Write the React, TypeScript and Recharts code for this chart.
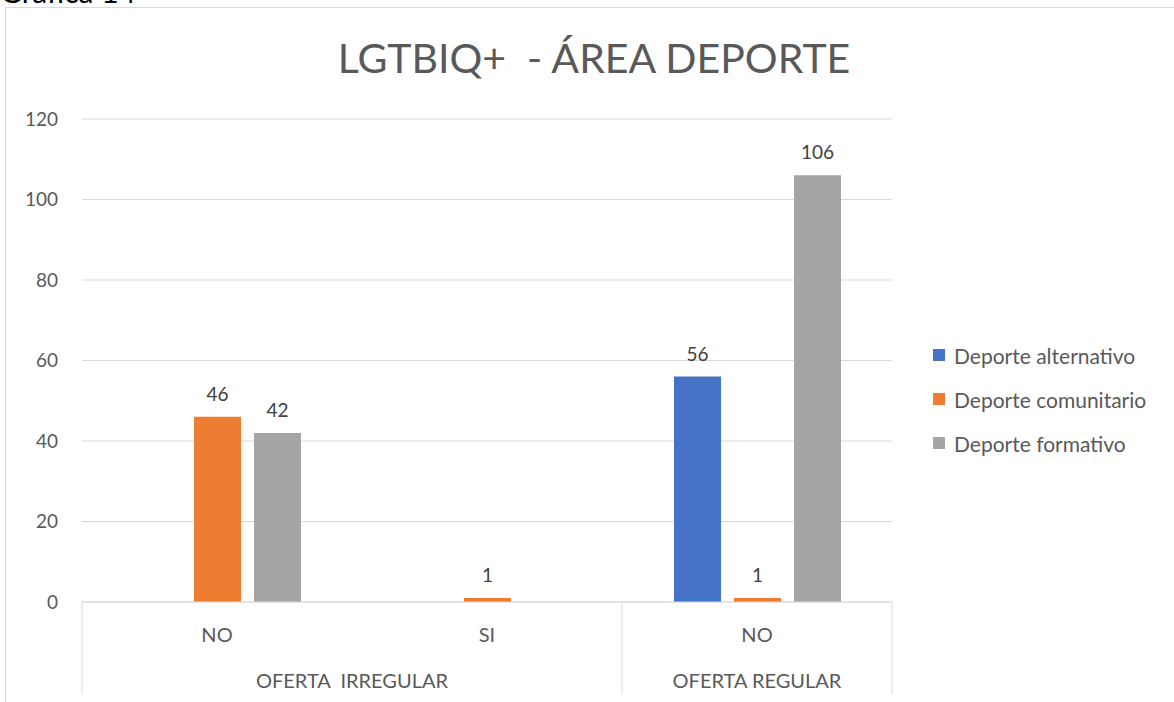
import { BarChart, Bar, XAxis, YAxis, CartesianGrid, Legend, LabelList } from 'recharts';

const categories = ['NO', 'SI', 'NO'];
const categoryGroup = [0, 0, 1];
const groups = ['OFERTA  IRREGULAR', 'OFERTA REGULAR'];
const alternativo = [null, null, 56];
const comunitario = [46, 1, 1];
const formativo = [42, null, 106];
const yTicks = [0, 20, 40, 60, 80, 100, 120];

const series = [
  { key: 'alternativo', name: 'Deporte alternativo', color: '#4472C4' },
  { key: 'comunitario', name: 'Deporte comunitario', color: '#ED7D31' },
  { key: 'formativo', name: 'Deporte formativo', color: '#A5A5A5' },
];

const data = categories.map((c, i) => ({
  cat: c,
  alternativo: alternativo[i],
  comunitario: comunitario[i],
  formativo: formativo[i],
}));

const FONT = 'Lato, "Open Sans", sans-serif';
const BAND = 270;

// two-row category axis like Excel's multi-level labels
const GroupTick = (props: any) => {
  const { x, y, payload } = props;
  const i = payload.index;
  const g = categoryGroup[i];
  const first = categoryGroup.indexOf(g);
  const last = categoryGroup.lastIndexOf(g);
  const lines: number[] = [];
  if (i === first) lines.push(x - BAND / 2);
  if (i === categories.length - 1) lines.push(x + BAND / 2);
  return (
    <g>
      <text x={x} y={y + 40} textAnchor="middle" fill="#595959" fontSize={20} fontFamily={FONT}>
        {payload.value}
      </text>
      {lines.map((lx) => (
        <line key={lx} x1={lx} x2={lx} y1={y} y2={y + 92} stroke="#d9d9d9" />
      ))}
      {i === first && (
        <text
          x={x + ((last - first) * BAND) / 2}
          y={y + 86}
          textAnchor="middle"
          fill="#595959"
          fontSize={20}
          fontFamily={FONT}
          style={{ whiteSpace: 'pre' }}
        >
          {groups[g]}
        </text>
      )}
    </g>
  );
};

const LegendBox = () => (
  <div style={{ paddingLeft: 41, fontFamily: FONT }}>
    {series.map((s) => (
      <div key={s.key} style={{ display: 'flex', alignItems: 'center', height: 44, fontSize: 21, color: '#595959' }}>
        <span style={{ width: 12, height: 12, background: s.color, marginRight: 9 }} />
        {s.name}
      </div>
    ))}
  </div>
);

const hideEmpty = (v: any) => (v == null ? '' : v);

export default function App() {
  return (
    <div style={{ position: 'absolute', left: 0, top: 0, width: 1174, height: 702, overflow: 'hidden', background: '#fff' }}>
      <div style={{ position: 'absolute', left: 5, top: 7, width: 1300, height: 800, border: '1px solid #d9d9d9' }} />
      <svg style={{ position: 'absolute', left: 0, top: 0 }} width={1174} height={100}>
        <text x={0} y={3} fontSize={30} fill="#000" fontFamily={FONT}>Gráfica 14</text>
        <text x={594} y={73} fontSize={41} fill="#595959" textAnchor="middle" fontFamily={FONT} style={{ whiteSpace: 'pre' }}>
          LGTBIQ+  - ÁREA DEPORTE
        </text>
      </svg>
      <div style={{ position: 'absolute', left: 0, top: 0 }}>
        <BarChart
          width={1174}
          height={702}
          data={data}
          margin={{ top: 119, right: 20, bottom: 0, left: 0 }}
          barSize={47}
          barGap={13}
        >
          <CartesianGrid vertical={false} stroke="#d9d9d9" />
          <XAxis
            dataKey="cat"
            height={100}
            axisLine={{ stroke: '#d9d9d9' }}
            tickLine={false}
            tickSize={0}
            tickMargin={0}
            interval={0}
            tick={<GroupTick />}
          />
          <YAxis
            width={82}
            domain={[0, 120]}
            ticks={yTicks}
            axisLine={false}
            tickLine={false}
            tickSize={0}
            tickMargin={24}
            tick={{ fill: '#595959', fontSize: 19, fontFamily: FONT }}
          />
          <Legend
            layout="vertical"
            align="right"
            verticalAlign="middle"
            width={262}
            wrapperStyle={{ top: 333 }}
            content={<LegendBox />}
          />
          {series.map((s) => (
            <Bar key={s.key} dataKey={s.key} name={s.name} fill={s.color} isAnimationActive={false}>
              <LabelList
                dataKey={s.key}
                position="top"
                offset={16}
                formatter={hideEmpty}
                fill="#404040"
                fontSize={19}
                fontFamily={FONT}
              />
            </Bar>
          ))}
        </BarChart>
      </div>
    </div>
  );
}
